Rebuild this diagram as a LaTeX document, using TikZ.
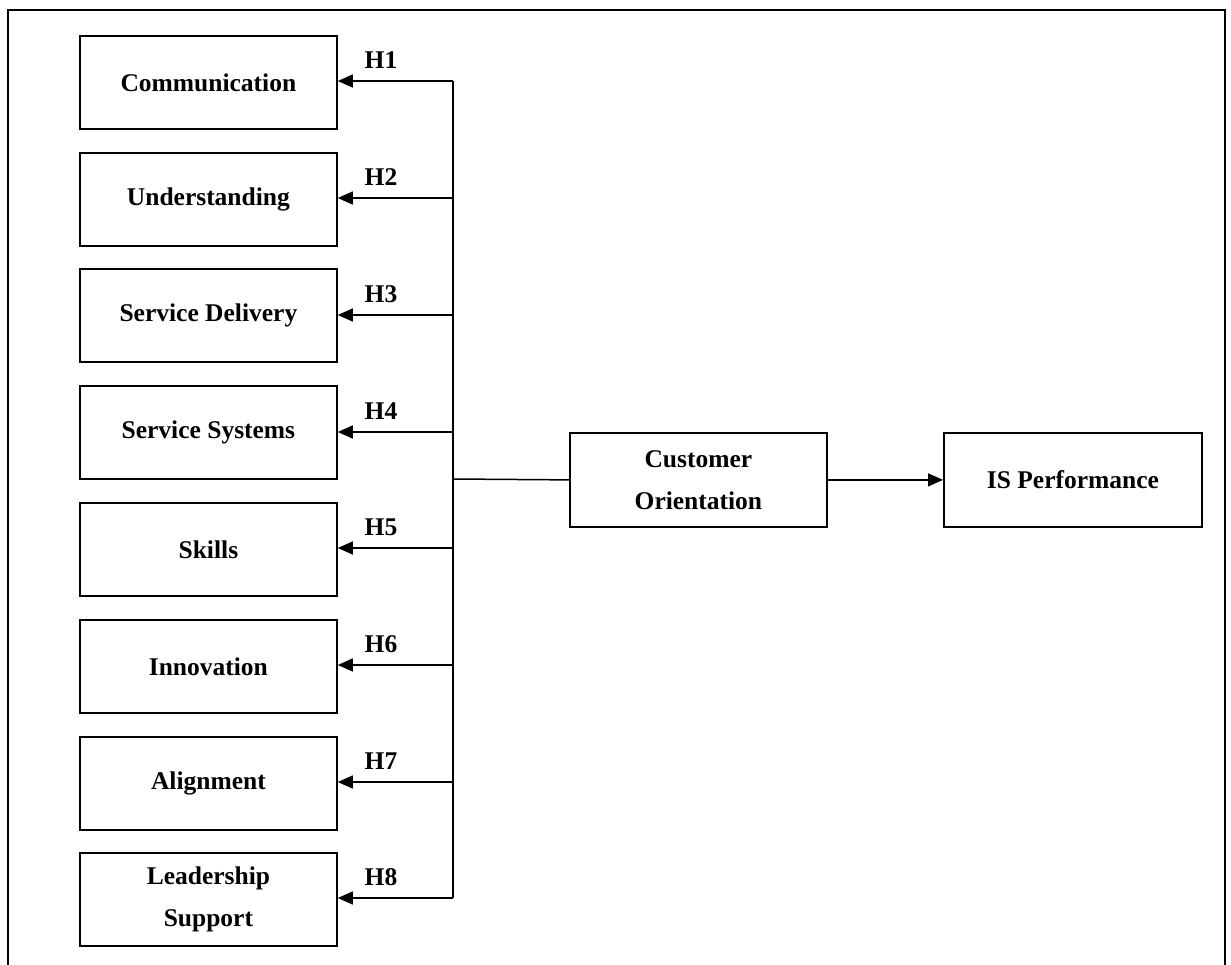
\documentclass[tikz,border=0pt]{standalone}
\usepackage{fontspec}
\setmainfont{Liberation Serif}
\usetikzlibrary{arrows.meta}
\begin{document}
\begin{tikzpicture}[x=1pt,y=-1pt,
  box/.style={draw,line width=1.8pt,minimum width=257pt,minimum height=93pt,anchor=north west,
    font=\fontsize{25.5}{42}\selectfont\bfseries,align=center,inner sep=0pt},
  lbl/.style={font=\fontsize{25.5}{30}\selectfont\bfseries,inner sep=0pt},
  conn/.style={line width=1.5pt},
  arr/.style={conn,-{Triangle[length=15pt,width=13pt]}}]
\useasboundingbox (0,0) rectangle (1231,965);
\draw[line width=1.8pt] (8,980) -- (8,10) -- (1225,10) -- (1225,980);
\node[box] (b1) at (79,35) {Communication};
\node[box] (b2) at (79,152) {Understanding};
\node[box] (b3) at (79,268) {Service Delivery};
\node[box] (b4) at (79,385) {Service Systems};
\node[box] (b5) at (79,502) {Skills};
\node[box] (b6) at (79,619) {Innovation};
\node[box] (b7) at (79,736) {Alignment};
\node[box] (b8) at (79,852) {Leadership\\Support};
\node[box,minimum height=94pt] (co) at (569,432) {Customer\\Orientation};
\node[box,minimum width=258pt,minimum height=94pt] (isp) at (943,432) {IS Performance};
\coordinate (top) at (453,81);
\coordinate (bot) at (453,898);
\coordinate (mid) at (453,479);
\draw[conn] (top) -- (bot);
\draw[conn] (mid) -- (co.west);
\draw[arr] (co.east) -- (isp.west);
\foreach \i/\y in {1/81,2/198,3/315,4/432,5/548,6/665,7/782,8/898}{
  \coordinate (j\i) at (453,\y);
  \draw[arr] (j\i) -- (b\i.east |- j\i);
  \node[lbl] (h\i) at (381,\y-21) {H\i};
}
\end{tikzpicture}
\end{document}
